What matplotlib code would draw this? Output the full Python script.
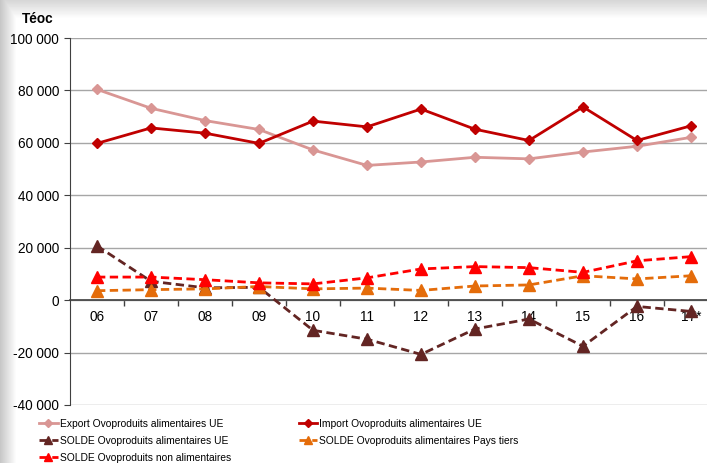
import numpy as np
import matplotlib.pyplot as plt
import matplotlib.ticker as mticker

plt.rcParams['font.family'] = ['Liberation Sans', 'DejaVu Sans']

annees = ["06", "07", "08", "09", "10", "11", "12", "13", "14", "15", "16", "17*"]
export_ue = [80400, 73200, 68500, 65100, 57300, 51400, 52700, 54500, 53900, 56500, 58700, 62100]
import_ue = [59800, 65700, 63700, 59800, 68300, 66100, 72900, 65200, 60900, 73700, 60900, 66500]
solde_ue = [20700, 7200, 4700, 4900, -11500, -14900, -20700, -11000, -7200, -17600, -2400, -4300]
solde_tiers = [3600, 4000, 4300, 5200, 4300, 4600, 3700, 5400, 5800, 9300, 8100, 9300]
solde_non_alim = [8800, 8800, 7800, 6600, 6200, 8500, 11900, 12800, 12400, 10600, 15000, 16600]

W, H = 707, 463
fig = plt.figure(figsize=(W / 100, H / 100), dpi=100)

# ombre grise a gauche et en haut
bg = fig.add_axes([0, 0, 1, 1], zorder=-10)
xx = np.linspace(0, W, W)
yy = np.linspace(0, H, H)
gx = np.clip(xx / 16.0, 0, 1)
gy = np.clip(yy / 18.0, 0, 1)
shade = np.minimum(0.78 + 0.22 * gx[None, :], 0.84 + 0.16 * gy[:, None])
bg.imshow(shade, cmap='gray', vmin=0, vmax=1, aspect='auto', extent=[0, W, H, 0])
bg.axis('off')

ax = fig.add_axes([70 / W, (H - 405) / H, 648 / W, 367 / H])
ax.patch.set_alpha(0)
x = np.arange(len(annees))

ax.plot(x, export_ue, color='#d99694', lw=2, marker='D', ms=5.5,
        label='Export Ovoproduits alimentaires UE', zorder=3)
ax.plot(x, import_ue, color='#c00000', lw=2, marker='D', ms=5.5,
        label='Import Ovoproduits alimentaires UE', zorder=3)
ax.plot(x, solde_ue, color='#632523', lw=2, ls=(0, (3, 1.6)), marker='^', ms=8,
        label='SOLDE Ovoproduits alimentaires UE', zorder=3)
ax.plot(x, solde_tiers, color='#e46c0a', lw=2, ls=(0, (3, 1.6)), marker='^', ms=8,
        label='SOLDE Ovoproduits alimentaires Pays tiers', zorder=3)
ax.plot(x, solde_non_alim, color='#ff0000', lw=2, ls=(0, (3, 1.6)), marker='^', ms=8,
        label='SOLDE Ovoproduits non alimentaires', zorder=3)

ax.set_xlim(-0.5, len(annees) - 0.5)
ax.set_ylim(-40000, 100000)
ax.set_yticks(np.arange(-40000, 100001, 20000))
ax.yaxis.set_major_formatter(mticker.FuncFormatter(lambda v, p: f"{int(v):,}".replace(",", " ")))
ax.grid(axis='y', color='#a6a6a6', lw=1)
ax.set_axisbelow(True)

for s in ['top', 'right']:
    ax.spines[s].set_visible(False)
ax.spines['left'].set_color('#404040')
ax.spines['bottom'].set_position(('data', 0))
ax.spines['bottom'].set_color('#404040')
ax.spines['bottom'].set_linewidth(1.2)

ax.set_xticks(x)
ax.set_xticklabels(annees)
ax.set_xticks(np.arange(0.5, len(annees) - 0.5, 1), minor=True)
ax.tick_params(axis='x', which='major', length=0, pad=7, labelsize=9.8)
ax.tick_params(axis='x', which='minor', length=4, width=1, direction='out', color='#404040')
ax.tick_params(axis='y', length=4, color='#404040', labelsize=9.8, pad=4)

fig.text(38 / W, 1 - 19 / H, 'Téoc', ha='center', va='center', fontsize=9.8, fontweight='bold')

h, l = ax.get_legend_handles_labels()
order = [0, 2, 4, 1, 3]
fig.legend([h[i] for i in order], [l[i] for i in order], loc='upper left',
           bbox_to_anchor=(39 / W, 1 - 419 / H), ncol=2, frameon=False, fontsize=7.4,
           handlelength=1.8, handletextpad=0.2, columnspacing=6.6, labelspacing=0.68,
           borderpad=0, borderaxespad=0, markerscale=0.8)

fig.savefig('out.png', dpi=100)
